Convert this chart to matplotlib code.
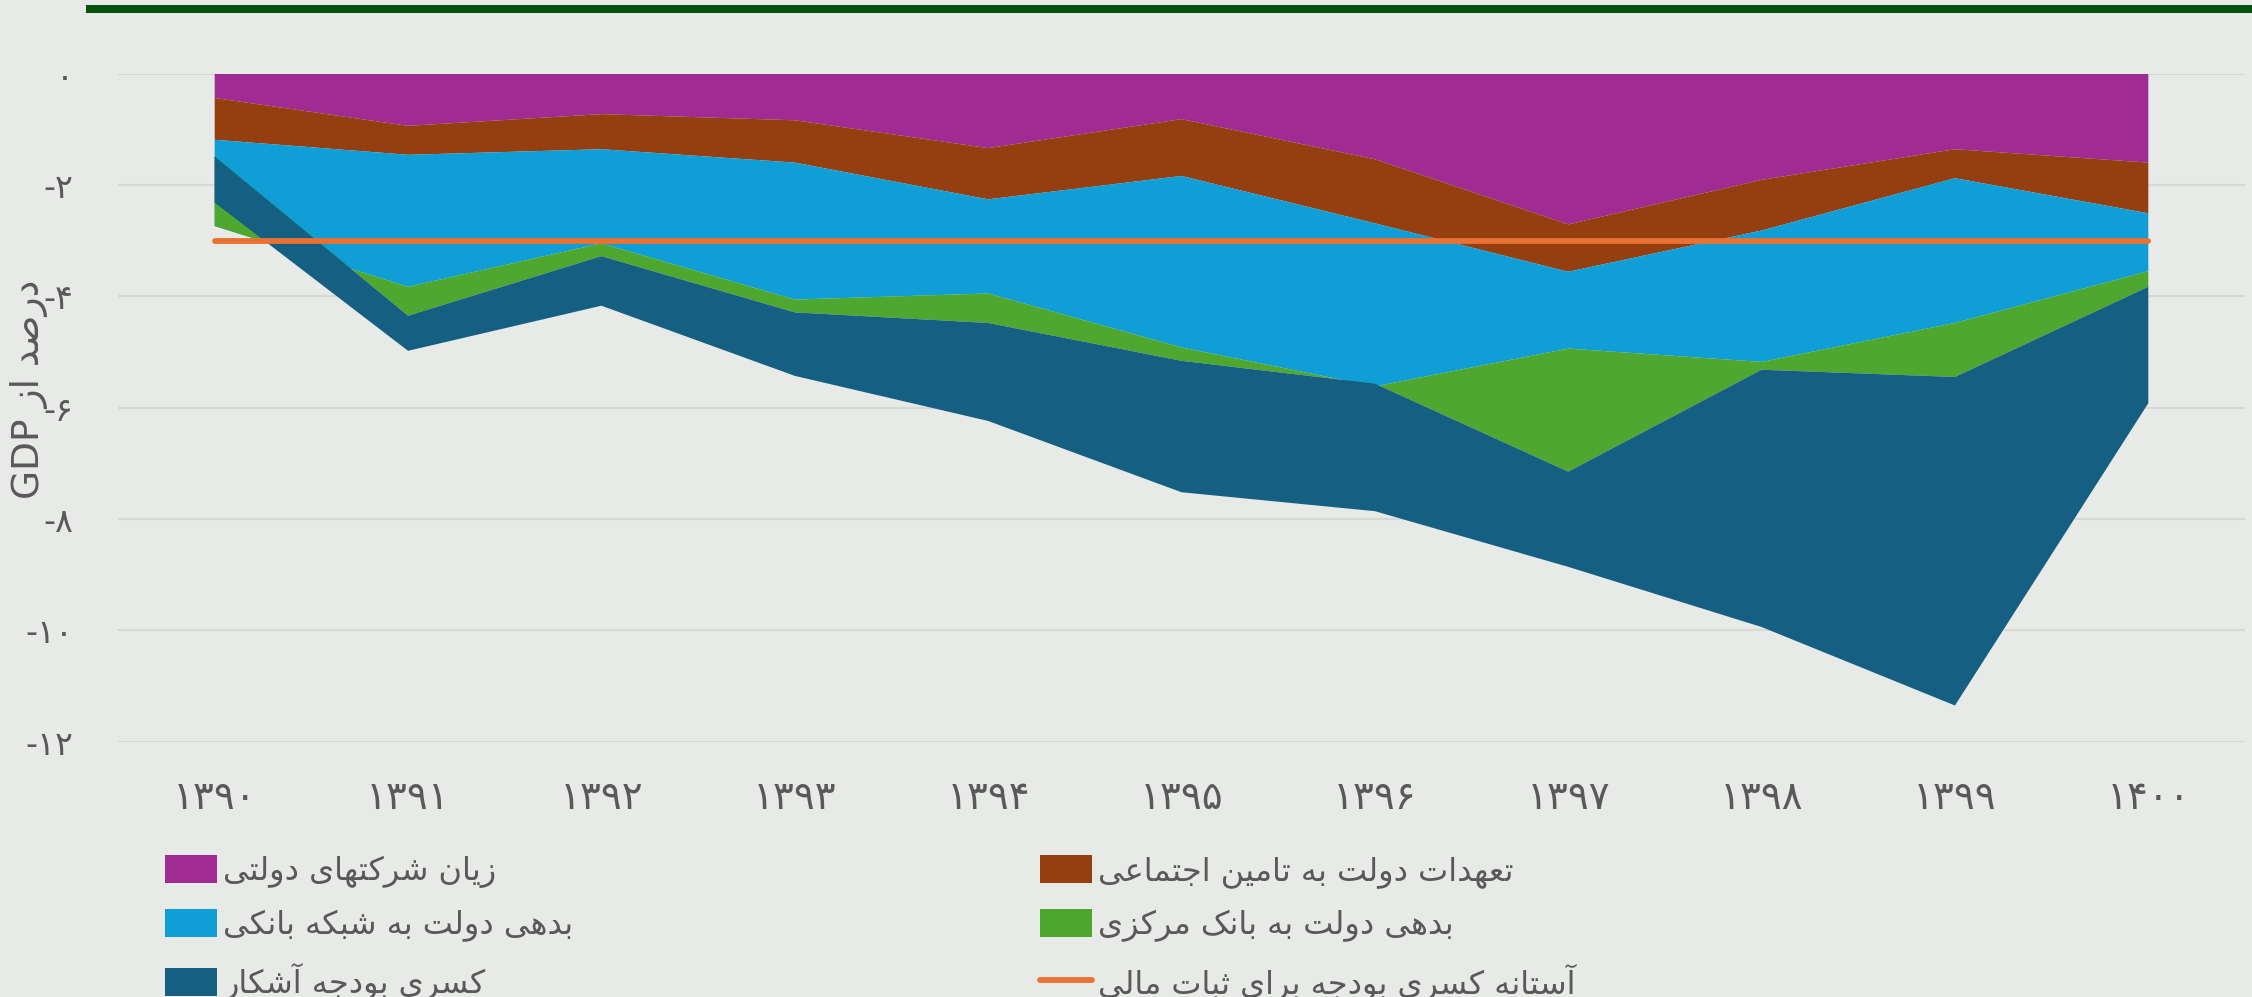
import numpy as np
import matplotlib
matplotlib.use('Agg')
import matplotlib.pyplot as plt
from matplotlib.patches import Patch, Rectangle
from matplotlib.lines import Line2D

# data (percent of GDP), years 1390..1400
years = np.arange(1390, 1401)
year_labels = ['۱۳۹۰', '۱۳۹۱', '۱۳۹۲', '۱۳۹۳', '۱۳۹۴', '۱۳۹۵', '۱۳۹۶', '۱۳۹۷', '۱۳۹۸', '۱۳۹۹', '۱۴۰۰']
ytick_vals = [-12, -10, -8, -6, -4, -2, 0]
ytick_labels = ['-۱۲', '-۱۰', '-۸', '-۶', '-۴', '-۲', '۰']

soe_losses = [-0.44, -0.94, -0.73, -0.84, -1.34, -0.82, -1.54, -2.71, -1.91, -1.36, -1.60]
social_sec = [-0.75, -0.52, -0.63, -0.76, -0.92, -1.02, -1.15, -0.85, -0.91, -0.52, -0.91]
bank_debt = [-1.55, -2.37, -1.69, -2.46, -1.69, -3.08, -2.93, -1.38, -2.36, -2.60, -1.04]
cb_debt = [1.25, -0.52, -0.23, -0.23, -0.53, -0.24, 0.05, -2.21, -0.14, -0.97, -0.28]
deficit = [-0.83, -0.63, -0.89, -1.14, -1.76, -2.36, -2.29, -1.71, -4.62, -5.90, -2.09]
threshold = [-3, -3, -3, -3, -3, -3, -3, -3, -3, -3, -3]

names = ['زیان شرکتهای دولتی', 'تعهدات دولت به تامین اجتماعی', 'بدهی دولت به شبکه بانکی',
         'بدهی دولت به بانک مرکزی', 'کسری بودجه آشکار', 'آستانه کسری بودجه برای ثبات مالی']
ylabel_fa = 'درصد از'

colors = ['#A02B93', '#953E10', '#0F9ED5', '#4EA72E', '#156082']
line_color = '#E97132'
bg = '#E8EAE7'
txt = '#595959'

# minimal arabic shaping (isolated, final, initial, medial)
FORMS = {
    'ا': ('\uFE8D', '\uFE8E', None, None),
    'آ': ('\uFE81', '\uFE82', None, None),
    'ب': ('\uFE8F', '\uFE90', '\uFE91', '\uFE92'),
    'ت': ('\uFE95', '\uFE96', '\uFE97', '\uFE98'),
    'ث': ('\uFE99', '\uFE9A', '\uFE9B', '\uFE9C'),
    'ج': ('\uFE9D', '\uFE9E', '\uFE9F', '\uFEA0'),
    'د': ('\uFEA9', '\uFEAA', None, None),
    'ر': ('\uFEAD', '\uFEAE', None, None),
    'ز': ('\uFEAF', '\uFEB0', None, None),
    'س': ('\uFEB1', '\uFEB2', '\uFEB3', '\uFEB4'),
    'ش': ('\uFEB5', '\uFEB6', '\uFEB7', '\uFEB8'),
    'ص': ('\uFEB9', '\uFEBA', '\uFEBB', '\uFEBC'),
    'ع': ('\uFEC9', '\uFECA', '\uFECB', '\uFECC'),
    'ل': ('\uFEDD', '\uFEDE', '\uFEDF', '\uFEE0'),
    'م': ('\uFEE1', '\uFEE2', '\uFEE3', '\uFEE4'),
    'ن': ('\uFEE5', '\uFEE6', '\uFEE7', '\uFEE8'),
    'ه': ('\uFEE9', '\uFEEA', '\uFEEB', '\uFEEC'),
    'و': ('\uFEED', '\uFEEE', None, None),
    'ی': ('\uFBFC', '\uFBFD', '\uFBFE', '\uFBFF'),
    'ک': ('\uFB8E', '\uFB8F', '\uFB90', '\uFB91'),
}


def shape(s):
    out = []
    for i, ch in enumerate(s):
        if ch not in FORMS:
            out.append(ch)
            continue
        prev = s[i - 1] if i > 0 else None
        nxt = s[i + 1] if i + 1 < len(s) else None
        f = FORMS[ch]
        jp = prev in FORMS and FORMS[prev][2] is not None
        jn = f[2] is not None and nxt in FORMS
        if jp and jn:
            out.append(f[3])
        elif jp:
            out.append(f[1])
        elif jn:
            out.append(f[2])
        else:
            out.append(f[0])
    return ''.join(reversed(out))


plt.rcParams['font.family'] = ['DejaVu Sans']

fig = plt.figure(figsize=(22.52, 9.97), dpi=100, facecolor=bg)
ax = fig.add_axes([118 / 2252, 1 - 741.7 / 997, 2127 / 2252, (741.7 - 73.5) / 997])
ax.set_facecolor(bg)

polys = ax.stackplot(years, soe_losses, social_sec, bank_debt, cb_debt, deficit,
                     colors=colors, linewidth=0, zorder=2)
ax.plot(years, threshold, color=line_color, lw=4.2, solid_capstyle='round', zorder=3)

ax.set_xlim(1389.5, 1400.5)
ax.set_ylim(-12, 0)
ax.set_yticks(ytick_vals)
ax.set_yticklabels(ytick_labels)
ax.set_xticks(years)
ax.set_xticklabels(year_labels)
ax.tick_params(axis='y', length=0, pad=32, labelsize=24, labelcolor=txt)
ax.tick_params(axis='x', length=0, pad=27, labelsize=28, labelcolor=txt)
ax.grid(axis='y', color='#D7D9D6', lw=1.6, zorder=0)
ax.set_axisbelow(True)
for sp in ax.spines.values():
    sp.set_visible(False)

fig.text(29 / 2252, 1 - 389 / 997, 'GDP ' + shape(ylabel_fa), rotation=90,
         ha='center', va='center', fontsize=27, color=txt)

# green bar on top
fig.patches.append(Rectangle((86 / 2252, 1 - 12.7 / 997), 1, 7.7 / 997,
                             transform=fig.transFigure, color='#06520F', lw=0))

handles = [Patch(facecolor=c, edgecolor='none') for c in colors]
handles.append(Line2D([], [], color=line_color, lw=4.2, solid_capstyle='round'))
labels = [shape(n) for n in names]

leg_kw = dict(frameon=False, fontsize=23, handlelength=1.63, handleheight=0.95,
              handletextpad=0.2, labelspacing=0.66, borderpad=0, borderaxespad=0,
              labelcolor=txt, loc='center left')
leg1 = fig.legend([handles[0], handles[2], handles[4]], [labels[0], labels[2], labels[4]],
                  bbox_to_anchor=(165 / 2252, 1 - 928 / 997), **leg_kw)
leg2 = fig.legend([handles[1], handles[3], handles[5]], [labels[1], labels[3], labels[5]],
                  bbox_to_anchor=(1040 / 2252, 1 - 928 / 997), **leg_kw)

fig.savefig('out.png', dpi=100, facecolor=bg)
